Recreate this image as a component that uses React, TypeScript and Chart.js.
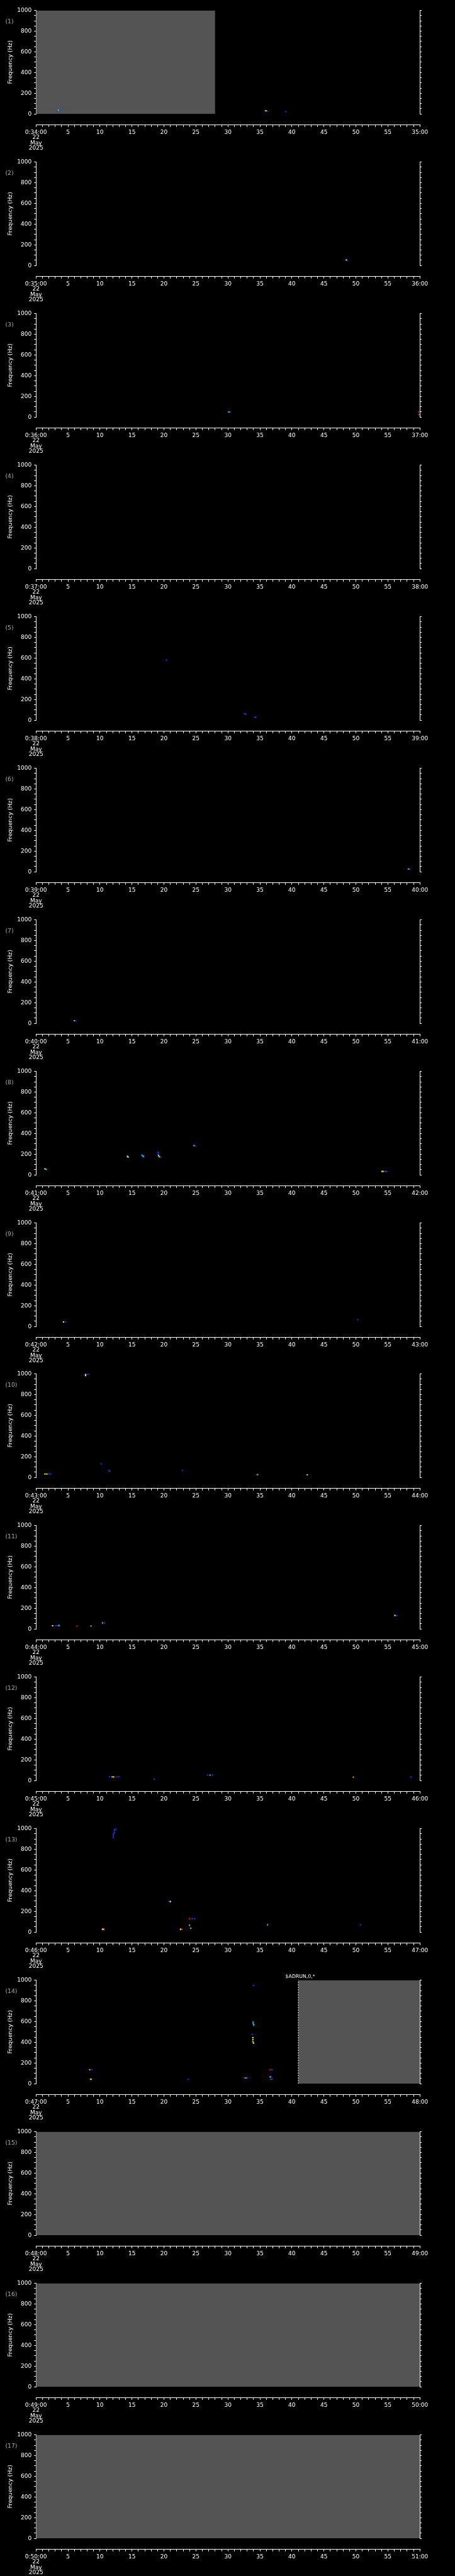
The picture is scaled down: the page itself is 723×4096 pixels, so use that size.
import React, { useEffect, useRef } from 'react';
import { Chart, registerables } from 'chart.js';

Chart.register(...registerables);

// ---------- data ----------
const panelMinutes = [34, 35, 36, 37, 38, 39, 40, 41, 42, 43, 44, 45, 46, 47, 48, 49, 50];
const dateLines = ['22', 'May', '2025'];

// gray "no data" blocks (seconds within the minute)
const grayPanel = [1, 14, 15, 16, 17];
const grayStart = [0, 41, 0, 0, 0];
const grayEnd = [28, 60, 60, 60, 60];
const dashPanel = [14];
const dashAt = [41];

// annotation text
const notePanel = 14;
const noteText = '$ADRUN,0,*';

// scattered spectral points: panel, time (s), frequency (Hz), colour key
const dotPanel = [
  1, 1, 1, 1, 1, 1,
  2, 2,
  3, 3, 3, 3, 3,
  5, 5, 5, 5, 5,
  6, 6,
  7, 7,
  8, 8, 8, 8, 8, 8, 8, 8, 8, 8, 8, 8, 8, 8, 8, 8, 8, 8, 8, 8,
  9, 9, 9,
  10, 10, 10, 10, 10, 10, 10, 10, 10, 10, 10, 10, 10, 10, 10,
  11, 11, 11, 11, 11, 11, 11, 11, 11, 11,
  12, 12, 12, 12, 12, 12, 12, 12, 12, 12, 12, 12,
  13, 13, 13, 13, 13, 13, 13, 13, 13, 13, 13, 13, 13, 13, 13, 13, 13, 13, 13, 13,
  14, 14, 14, 14, 14, 14, 14, 14, 14, 14, 14, 14, 14, 14, 14, 14, 14, 14, 14, 14, 14, 14, 14,
];
const dotTime = [
  3.55, 3.75, 35.8, 35.95, 36.2, 39.05,
  48.5, 48.65,
  30.15, 30.35, 59.8, 59.8, 59.95,
  20.4, 32.6, 32.8, 34.2, 34.35,
  58.2, 58.45,
  6.0, 6.2,
  1.4, 1.6, 14.3, 14.4, 16.5, 16.65, 16.8, 16.85, 19.1, 19.1, 19.1, 19.15, 19.3, 19.5, 24.7, 24.9, 54.1, 54.3, 54.6, 54.8,
  4.3, 4.6, 50.3,
  7.75, 7.75, 8.0, 8.2, 10.2, 11.4, 11.55, 1.4, 1.7, 2.0, 2.3, 22.9, 34.5, 34.65, 42.4,
  2.6, 3.1, 3.4, 3.6, 6.4, 8.6, 10.4, 10.7, 56.1, 56.4,
  11.5, 11.9, 12.1, 12.3, 12.7, 13.0, 18.5, 26.8, 27.2, 27.6, 49.6, 58.6,
  12.1, 12.1, 12.1, 12.25, 12.25, 12.3, 12.5, 20.8, 21.0, 24.0, 24.4, 24.8, 24.0, 24.2, 22.6, 22.8, 10.4, 10.6, 36.2, 50.7,
  34.0, 33.95, 33.95, 34.05, 33.8, 33.9, 33.9, 33.9, 34.0, 8.4, 8.7, 8.5, 8.6, 23.8, 32.6, 32.8, 33.0, 36.6, 36.9, 36.6, 36.8, 36.7, 36.9,
];
const dotFreq = [
  37, 37, 33, 30, 27, 23,
  54, 49,
  49, 47, 50, 24, 24,
  581, 63, 58, 29, 29,
  27, 26,
  26, 25,
  59, 54, 180, 172, 194, 186, 178, 172, 220, 208, 197, 187, 175, 170, 284, 281, 34, 34, 34, 34,
  44, 44, 65,
  995, 984, 997, 997, 131, 66, 61, 33, 33, 35, 34, 67, 27, 27, 26,
  32, 32, 34, 34, 29, 29, 59, 59, 131, 130,
  36, 36, 35, 36, 36, 36, 13, 53, 53, 53, 33, 33,
  915, 932, 948, 962, 978, 992, 995, 298, 295, 130, 130, 130, 66, 38, 28, 28, 28, 28, 71, 71,
  949, 595, 580, 566, 476, 445, 425, 405, 392, 135, 135, 43, 43, 41, 56, 56, 56, 135, 135, 66, 66, 43, 43,
];
const dotColor = [
  'C', 'B', 'R', 'Y', 'B', 'B',
  'Y', 'B',
  'C', 'B', 'R', 'R', 'B',
  'B', 'B', 'B', 'B', 'B',
  'C', 'B',
  'C', 'B',
  'Y', 'C', 'Y', 'G', 'B', 'C', 'C', 'B', 'B', 'B', 'B', 'Y', 'G', 'B', 'C', 'B', 'Y', 'O', 'B', 'B',
  'Y', 'B', 'B',
  'Y', 'Y', 'B', 'B', 'B', 'B', 'B', 'Y', 'Y', 'B', 'B', 'B', 'R', 'C', 'G',
  'Y', 'B', 'B', 'C', 'R', 'C', 'C', 'B', 'Y', 'B',
  'B', 'C', 'Y', 'R', 'B', 'B', 'B', 'B', 'C', 'B', 'O', 'B',
  'B', 'B', 'B', 'B', 'B', 'B', 'B', 'B', 'Y', 'R', 'B', 'B', 'O', 'C', 'Y', 'R', 'Y', 'O', 'C', 'B',
  'B', 'C', 'C', 'C', 'B', 'Y', 'Y', 'Y', 'Y', 'O', 'B', 'R', 'Y', 'B', 'R', 'C', 'B', 'R', 'B', 'C', 'B', 'R', 'B',
];

const xTickValues = Array.from({ length: 61 }, (_, i) => i);
const yTickValues = Array.from({ length: 21 }, (_, i) => i * 50);

// ---------- style ----------
const S = 0.706;
const W = 723;
const PANEL_H = 241;
const PITCH = 4096 / 17;
const FONT = 'DejaVu Sans';
const COLORS: Record<string, string> = {
  B: '#0040ff',
  C: '#00e8ff',
  Y: '#ffff00',
  G: '#80ff40',
  O: '#ffa000',
  R: '#ff0000',
};
const GRAY = '#545454';

const PLOT_TOP = 23.5 * S;
const PLOT_BOTTOM = 256.7 * S;
const PLOT_LEFT = 81 * S;
const PLOT_RIGHT = 945 * S;
const RIGHT_AXIS_W = 10;

function Panel({ n }: { n: number }) {
  const ref = useRef<HTMLCanvasElement>(null);

  useEffect(() => {
    const minute = panelMinutes[n - 1];
    const pts: { x: number; y: number }[] = [];
    const cols: string[] = [];
    dotPanel.forEach((p, i) => {
      if (p === n) {
        pts.push({ x: dotTime[i], y: dotFreq[i] });
        cols.push(COLORS[dotColor[i]]);
      }
    });

    const datasets: any[] = [
      {
        type: 'scatter',
        data: pts,
        backgroundColor: cols,
        pointStyle: 'rect',
        pointRadius: 1.5,
        pointBorderWidth: 0,
        borderWidth: 0,
      },
    ];
    dashPanel.forEach((p, i) => {
      if (p === n) {
        datasets.push({
          type: 'line',
          data: [
            { x: dashAt[i], y: 0 },
            { x: dashAt[i], y: 1000 },
          ],
          borderColor: '#ffffff',
          borderWidth: 1,
          borderDash: [2, 2],
          pointRadius: 0,
          fill: false,
        });
      }
    });
    grayPanel.forEach((p, i) => {
      if (p === n) {
        datasets.push({
          type: 'line',
          data: [
            { x: grayStart[i], y: 1000 },
            { x: grayEnd[i], y: 1000 },
          ],
          fill: { value: 0 },
          backgroundColor: GRAY,
          borderColor: 'rgba(0,0,0,0)',
          borderWidth: 0,
          pointRadius: 0,
          tension: 0,
        });
      }
    });

    const chart = new Chart(ref.current as HTMLCanvasElement, {
      type: 'scatter',
      data: { datasets },
      options: {
        animation: false,
        responsive: false,
        events: [],
        plugins: { legend: { display: false }, tooltip: { enabled: false } },
        layout: {
          padding: {
            left: 0,
            right: W - PLOT_RIGHT - RIGHT_AXIS_W,
            top: PLOT_TOP,
            bottom: PANEL_H - PLOT_BOTTOM,
          },
        },
        scales: {
          x: {
            type: 'linear',
            min: 0,
            max: 60,
            position: { y: -104 } as any,
            afterBuildTicks: (s: any) => {
              s.ticks = xTickValues.map((v) => ({ value: v }));
            },
            afterFit: (s: any) => {
              s.height = 0;
            },
            grid: { drawOnChartArea: false, color: '#ffffff', tickLength: 2.8, tickWidth: 1 },
            border: { color: '#ffffff', width: 1 },
            ticks: {
              autoSkip: false,
              maxRotation: 0,
              minRotation: 0,
              color: '#ffffff',
              padding: 5.1,
              font: { family: FONT, size: 9, lineHeight: '8.5px' } as any,
              callback: (v: any) => {
                const val = Number(v);
                if (val === 0) return [`0:${minute}:00`, ...dateLines];
                if (val === 60) return `${minute + 1}:00`;
                if (val % 5 === 0) return String(val);
                return '';
              },
            },
          },
          y: {
            type: 'linear',
            min: 0,
            max: 1000,
            position: 'left',
            afterBuildTicks: (s: any) => {
              s.ticks = yTickValues.map((v) => ({ value: v }));
            },
            afterFit: (s: any) => {
              s.width = PLOT_LEFT;
            },
            grid: { drawOnChartArea: false, color: '#ffffff', tickLength: 3, tickWidth: 1 },
            border: { color: '#ffffff', width: 1 },
            ticks: {
              autoSkip: false,
              color: '#ffffff',
              padding: 4,
              font: { family: FONT, size: 9 },
              callback: (v: any) => (Number(v) % 200 === 0 ? String(v) : ''),
            },
            title: {
              display: true,
              text: 'Frequency (Hz)',
              color: '#ffffff',
              font: { family: FONT, size: 9.2, lineHeight: 1.2 },
              padding: { top: 10.9, bottom: 0 },
            },
          },
          y2: {
            type: 'linear',
            min: 0,
            max: 1000,
            position: 'right',
            afterBuildTicks: (s: any) => {
              s.ticks = yTickValues.map((v) => ({ value: v }));
            },
            afterFit: (s: any) => {
              s.width = RIGHT_AXIS_W;
            },
            grid: { drawOnChartArea: false, color: '#ffffff', tickLength: 3, tickWidth: 1 },
            border: { color: '#ffffff', width: 1 },
            ticks: { display: false },
          },
        },
      } as any,
    });
    return () => chart.destroy();
  }, [n]);

  return (
    <canvas
      ref={ref}
      width={W}
      height={PANEL_H}
      style={{ display: 'block', width: W, height: PANEL_H }}
    />
  );
}

export default function App() {
  useEffect(() => {
    document.body.style.margin = '0';
    document.body.style.background = '#000';
    document.documentElement.style.background = '#000';
  }, []);

  return (
    <div style={{ position: 'relative', width: W, height: 4096, background: '#000', overflow: 'hidden' }}>
      {panelMinutes.map((_, i) => (
        <div
          key={i}
          style={{ position: 'absolute', left: 0, top: Math.round(i * PITCH), width: W, height: PANEL_H }}
        >
          <Panel n={i + 1} />
          <div
            style={{
              position: 'absolute',
              left: 12 * S,
              top: 47.5 * S - 5,
              fontFamily: FONT,
              fontSize: 9.2,
              lineHeight: '10px',
              color: '#aaaaaa',
              whiteSpace: 'nowrap',
            }}
          >
            ({i + 1})
          </div>
          {i + 1 === notePanel && (
            <div
              style={{
                position: 'absolute',
                left: 642.5 * S,
                top: 14.6 * S - 4.5,
                fontFamily: FONT,
                fontSize: 7.8,
                lineHeight: '9px',
                color: '#ffffff',
                whiteSpace: 'nowrap',
              }}
            >
              {noteText}
            </div>
          )}
        </div>
      ))}
    </div>
  );
}
